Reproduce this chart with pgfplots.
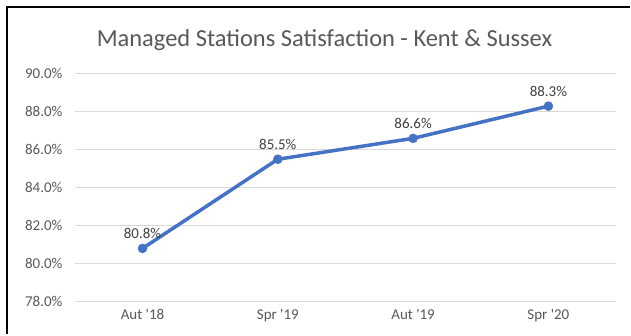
\documentclass[border=0pt]{standalone}
\usepackage{pgfplots}
\pgfplotsset{compat=1.18}
\usepackage{fontspec}
\setmainfont{Carlito}
\definecolor{linecol}{HTML}{4472C4}
\definecolor{gridcol}{HTML}{D9D9D9}
\definecolor{txtcol}{HTML}{595959}
\definecolor{lblcol}{HTML}{404040}
\begin{document}
\begin{tikzpicture}[x=1pt,y=1pt]
\path[fill=white] (0,0) rectangle (631,335);
\draw[black, line width=2pt] (7,0) -- (7,328) -- (631,328);
\node[txtcol, font=\fontsize{24.5}{28}\selectfont] at (325,295) {Managed Stations Satisfaction - Kent \& Sussex};
\begin{axis}[
  at={(75pt,33pt)}, anchor=south west,
  scale only axis, width=542pt, height=228pt,
  xmin=-0.5, xmax=3.5, ymin=78, ymax=90,
  axis line style={draw=none},
  xtick={0,1,2,3},
  xticklabels={Aut \textquotesingle18, Spr \textquotesingle19, Aut \textquotesingle19, Spr \textquotesingle20},
  ytick={78,80,...,90},
  yticklabel={\pgfmathprintnumber[fixed,fixed zerofill,precision=1]{\tick}\%},
  /pgf/number format/assume math mode=true,
  tick style={draw=none},
  ymajorgrids, grid style={gridcol, line width=1.2pt},
  ticklabel style={txtcol, font=\fontsize{15}{18}\selectfont},
  yticklabel style={xshift=-9pt},
  xticklabel style={yshift=-4pt},
  clip=false,
]
\addplot[linecol, line width=3.5pt, mark=*, mark size=4.5pt,
  mark options={fill=linecol, draw=linecol, line width=0.5pt},
  nodes near coords={\pgfmathprintnumber[fixed,fixed zerofill,precision=1]{\pgfplotspointmeta}\%},
  nodes near coords style={lblcol, font=\fontsize{15}{18}\selectfont, anchor=south, yshift=6pt, /pgf/number format/assume math mode=true},
] coordinates {(0,80.8) (1,85.5) (2,86.6) (3,88.3)};
\end{axis}
\end{tikzpicture}
\end{document}
